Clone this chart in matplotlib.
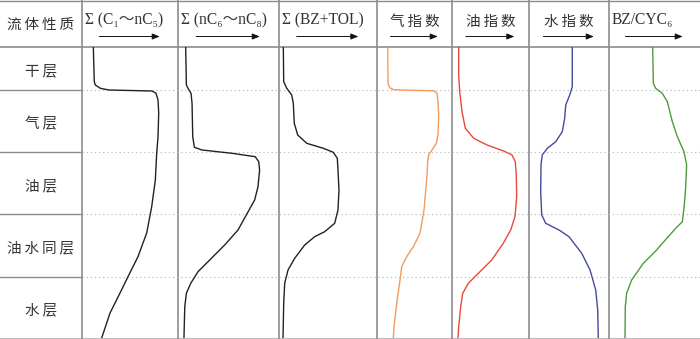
import matplotlib
matplotlib.use("Agg")
import matplotlib.pyplot as plt

# fluid types (rows) and track headers
ROW_LABELS = ["干层", "气层", "油层", "油水同层", "水层"]
TRACK_TITLES = ["Σ (C₁～nC₅)", "Σ (nC₆～nC₈)", "Σ (BZ+TOL)", "气指数", "油指数", "水指数", "BZ/CYC₆"]

# depth of the row boundaries (same depth units as the curves below)
ROW_BOUNDS = [0, 43, 105, 167, 230, 291]

# curves: relative reading (0-1 across the track) against depth
c1_depth = [0, 34.7, 38, 41.3, 43, 44, 46.3, 53, 66, 89.7, 106.3, 133, 159.7, 186, 209.7, 229.7, 246,
            266, 291]
c1_value = [0.118, 0.128, 0.139, 0.191, 0.279, 0.729, 0.771, 0.792, 0.799, 0.792, 0.778, 0.764, 0.726,
            0.674, 0.583, 0.479, 0.396, 0.292, 0.205]

c2_depth = [0, 38, 41.3, 46.3, 56.3, 89.7, 100.3, 103, 106.3, 109.7, 114.7, 123, 139.7, 153, 168, 183,
            198, 213, 224.7, 236.3, 246.3, 259.7, 291]
c2_value = [0.076, 0.083, 0.099, 0.129, 0.139, 0.146, 0.162, 0.238, 0.535, 0.765, 0.799, 0.808, 0.792,
            0.759, 0.676, 0.594, 0.462, 0.314, 0.198, 0.126, 0.083, 0.067, 0.059]

c3_depth = [0, 34.7, 41.3, 48, 56.3, 76.3, 88, 96.3, 101.3, 105.3, 111.3, 123, 143, 163, 176.3, 184.7,
            189.7, 198, 211.3, 223, 236.3, 256.3, 291]
c3_value = [0.044, 0.048, 0.079, 0.130, 0.146, 0.156, 0.191, 0.283, 0.452, 0.554, 0.595, 0.602, 0.612,
            0.602, 0.568, 0.466, 0.364, 0.262, 0.160, 0.092, 0.058, 0.048, 0.041]

gas_depth = [0, 36.3, 40.7, 42.7, 43.3, 43.7, 46.3, 54.7, 68, 88, 96.3, 103, 108, 114.7, 128, 163, 186.3,
             199.7, 209.7, 219.7, 233, 256.3, 276.3, 291]
gas_value = [0.143, 0.147, 0.169, 0.223, 0.444, 0.756, 0.800, 0.813, 0.823, 0.813, 0.791, 0.733, 0.689,
             0.676, 0.667, 0.627, 0.573, 0.484, 0.396, 0.329, 0.307, 0.263, 0.231, 0.217]

oil_depth = [0, 28, 44.7, 64.7, 81.3, 91.3, 98, 104, 108, 114.7, 128, 149.7, 169.7, 183, 196.3, 213,
             226.3, 236.3, 246.3, 259.7, 279.7, 291]
oil_value = [0.087, 0.087, 0.100, 0.130, 0.173, 0.282, 0.455, 0.671, 0.779, 0.822, 0.835, 0.840, 0.818,
             0.762, 0.666, 0.516, 0.342, 0.212, 0.139, 0.113, 0.087, 0.078]

water_depth = [0, 39.7, 48, 58, 71.3, 84.7, 94.7, 101.3, 108, 118, 144.7, 168, 176.3, 183, 189.7, 196.3,
               206.3, 223, 243, 263, 291]
water_value = [0.541, 0.541, 0.509, 0.459, 0.446, 0.416, 0.334, 0.229, 0.166, 0.150, 0.146, 0.159, 0.209,
               0.375, 0.500, 0.563, 0.659, 0.763, 0.834, 0.859, 0.866]

bz_depth = [0, 36.3, 41.3, 46.3, 54.7, 74.7, 89.7, 104.7, 118, 141.3, 161.3, 174.7, 181.3, 196.3, 203,
            216.3, 233, 246.3, 259.7, 291]
bz_value = [0.480, 0.487, 0.513, 0.586, 0.641, 0.696, 0.751, 0.824, 0.853, 0.842, 0.824, 0.806, 0.733,
            0.586, 0.524, 0.377, 0.249, 0.194, 0.179, 0.176]

CURVES = [
    (c1_value, c1_depth, "#222222"),
    (c2_value, c2_depth, "#222222"),
    (c3_value, c3_depth, "#222222"),
    (gas_value, gas_depth, "#f59a5c"),
    (oil_value, oil_depth, "#e8493a"),
    (water_value, water_depth, "#444a9e"),
    (bz_value, bz_depth, "#4f9a3c"),
]

# layout in pixels (700 x 339 canvas)
W, H = 700, 339
COL_EDGES = [0, 82, 178, 279, 377, 452, 529, 609, 700]
HEADER_BOTTOM = 47
BODY_BOTTOM = 338

CJK = ["Noto Sans CJK SC", "DejaVu Sans"]
SERIF = ["Liberation Serif", "DejaVu Serif", "Noto Sans CJK SC"]
GRID = "#8c8c8c"
TEXT = "#333333"


def depth_to_y(d):
    return HEADER_BOTTOM + d * (BODY_BOTTOM - HEADER_BOTTOM) / ROW_BOUNDS[-1]


def spaced(s):
    return "\u2009".join(s)


def draw_frame(ax):
    ax.plot([0, W], [0.5, 0.5], color=GRID, lw=1.0)
    ax.plot([0, W], [HEADER_BOTTOM, HEADER_BOTTOM], color=GRID, lw=1.2)
    ax.plot([0, W], [BODY_BOTTOM, BODY_BOTTOM], color="#bbbbbb", lw=0.8)
    for x in COL_EDGES[1:-1]:
        ax.plot([x, x], [0, H], color=GRID, lw=1.2)
    for d in ROW_BOUNDS[1:-1]:
        y = depth_to_y(d)
        ax.plot([0, COL_EDGES[1]], [y, y], color=GRID, lw=1.0)
        ax.plot([COL_EDGES[1], W], [y, y], color="#bdbdbd", lw=0.8, ls=(0, (1.2, 2.5)))


def draw_headers(ax):
    ax.text(COL_EDGES[1] / 2, 25, spaced("流体性质"), ha="center", va="center",
            fontsize=10.5, family=CJK, color=TEXT)
    for i, title in enumerate(TRACK_TITLES):
        left, right = COL_EDGES[i + 1], COL_EDGES[i + 2]
        if title[0] in "ΣB":
            ax.text(left + 3, 20, title, ha="left", va="center", fontsize=11.2,
                    family=SERIF, color=TEXT)
        else:
            ax.text((left + right) / 2, 22, spaced(title), ha="center", va="center",
                    fontsize=10.5, family=CJK, color=TEXT)
        width = right - left
        ax.annotate("", xy=(left + 0.81 * width, 36.5), xytext=(left + 0.18 * width, 36.5),
                    arrowprops=dict(arrowstyle="-|>,head_length=0.45,head_width=0.18",
                                    color="#111111", lw=0.7, shrinkA=0, shrinkB=0))

    for label, top, bottom in zip(ROW_LABELS, ROW_BOUNDS[:-1], ROW_BOUNDS[1:]):
        y = (depth_to_y(top) + depth_to_y(bottom)) / 2 + 3
        ax.text(COL_EDGES[1] / 2, y, spaced(label), ha="center", va="center",
                fontsize=10.5, family=CJK, color=TEXT)


def draw_curves(fig):
    for i, (values, depths, color) in enumerate(CURVES):
        left, right = COL_EDGES[i + 1], COL_EDGES[i + 2]
        track = fig.add_axes([left / W, (H - BODY_BOTTOM) / H, (right - left) / W,
                              (BODY_BOTTOM - HEADER_BOTTOM) / H])
        track.plot(values, depths, color=color, lw=1.0, solid_joinstyle="round")
        track.set_xlim(0, 1)
        track.set_ylim(ROW_BOUNDS[-1], 0)
        track.axis("off")
        track.patch.set_alpha(0)


def main() -> None:
    fig = plt.figure(figsize=(W / 100, H / 100), dpi=100)
    ax = fig.add_axes([0, 0, 1, 1])
    ax.set_xlim(0, W)
    ax.set_ylim(H, 0)
    ax.axis("off")

    draw_frame(ax)
    draw_headers(ax)
    draw_curves(fig)

    fig.savefig("out.png", dpi=100, facecolor="white")
    plt.close(fig)


if __name__ == "__main__":
    main()
